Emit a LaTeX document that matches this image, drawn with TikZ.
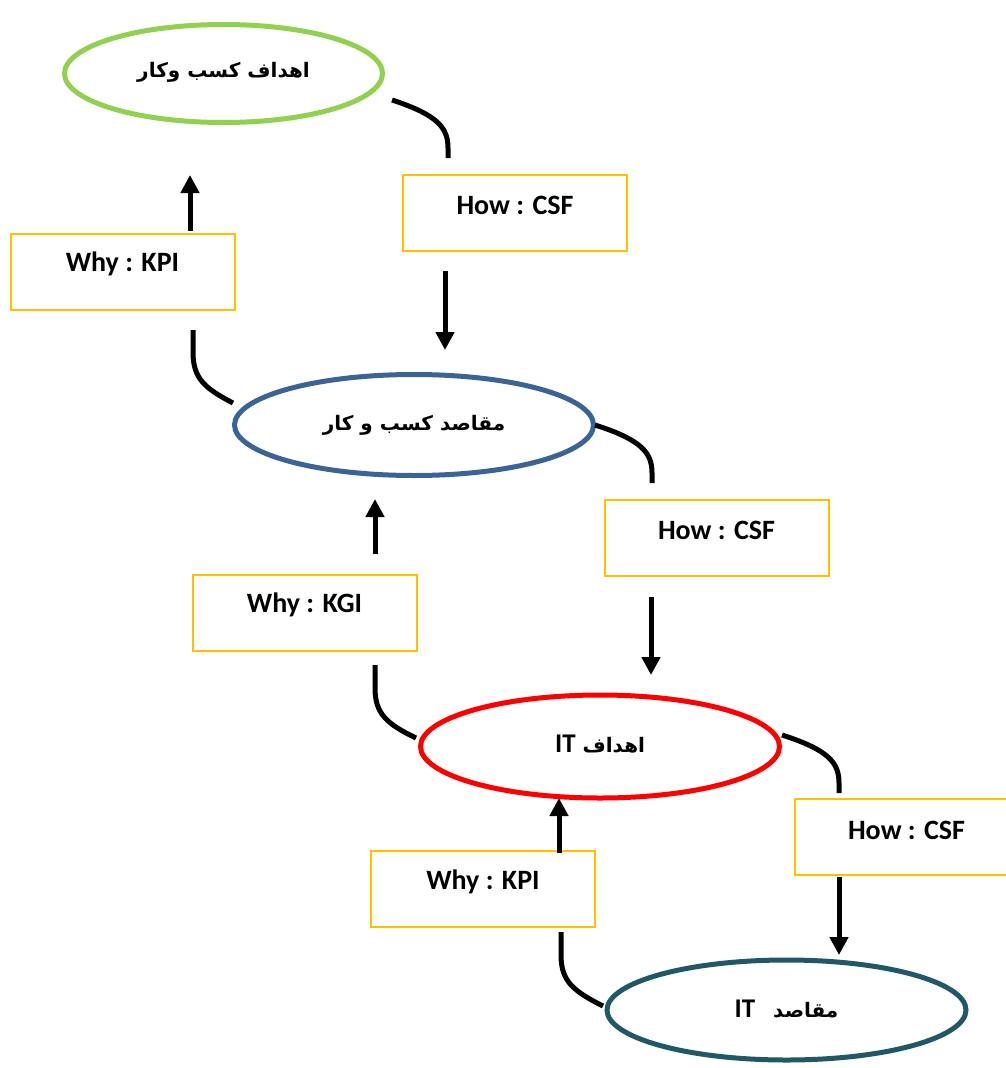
\documentclass[tikz,border=0pt]{standalone}
\usepackage{fontspec}
\setmainfont{Carlito}
\newfontfamily\arabicfont[Script=Arabic]{DejaVu Sans}
\TeXXeTstate=1
\usetikzlibrary{shapes.geometric,arrows.meta}

\definecolor{goalgreen}{HTML}{92D050}
\definecolor{objblue}{HTML}{3A6496}
\definecolor{itred}{HTML}{FF0000}
\definecolor{itteal}{HTML}{215868}
\definecolor{boxorange}{HTML}{FFC000}

\tikzset{
  goal/.style={ellipse, draw=#1, line width=5pt, inner sep=0pt,
    minimum width=359pt, minimum height=101pt, font=\fontsize{20}{24}\selectfont\bfseries},
  factor/.style={rectangle, draw=boxorange, line width=2pt, inner sep=0pt,
    minimum width=224pt, minimum height=76pt},
  factortext/.style={inner sep=0pt, font=\fontsize{28}{32}\selectfont\bfseries},
  link/.style={line width=5pt},
  push/.style={line width=5pt, -{Triangle[length=18pt,width=18pt]}},
}
\newcommand{\fa}[1]{{\arabicfont\beginR #1\endR}}
\newcommand{\latinbig}[1]{{\fontsize{27}{30}\selectfont\bfseries #1}}

\begin{document}
\begin{tikzpicture}[x=1pt,y=-1pt]
\useasboundingbox (0,0) rectangle (1006,1068);
\clip (0,0) rectangle (1006,1068);

% goal ellipses
\node[goal=goalgreen, minimum width=318pt, minimum height=98pt] (bg) at (223.5,73.5) {\raisebox{7pt}{\fa{اهداف کسب وکار}}};
\node[goal=objblue] (bo) at (414,425) {\raisebox{3pt}{\fa{مقاصد کسب و کار}}};
\node[goal=itred, minimum height=103pt] (ig) at (600,746.5) {\raisebox{6pt}{\latinbig{IT}\hspace{0.35em}\fa{اهداف}}};
\node[goal=itteal, minimum height=100pt] (io) at (786.5,1010) {\raisebox{3pt}{\latinbig{IT}\hspace{0.9em}\fa{مقاصد}}};

% factor boxes
\node[factor] (h1) at (515,213) {};
\node[factortext] (h1t) at (515,205) {How : CSF};
\node[factor] (w1) at (122.5,271.5) {};
\node[factortext] (w1t) at (122.5,264) {Why : KPI};
\node[factor] (h2) at (716.5,538) {};
\node[factortext] (h2t) at (716.5,530) {How : CSF};
\node[factor] (w2) at (304.5,612.5) {};
\node[factortext] (w2t) at (304.5,605) {Why : KGI};
\node[factor] (h3) at (906.5,837) {};
\node[factortext] (h3t) at (906.5,830) {How : CSF};
\node[factor] (w3) at (483,889) {};
\node[factortext] (w3t) at (483,882) {Why : KPI};

% curved links leaving the ellipses and boxes
\coordinate (c1a) at (392,100);  \coordinate (c1b) at (448,158);
\coordinate (c2a) at (193,330);  \coordinate (c2b) at (233,403);
\coordinate (c3a) at (595,425);  \coordinate (c3b) at (652,483);
\coordinate (c4a) at (375,665);  \coordinate (c4b) at (416,738);
\coordinate (c5a) at (782,735);  \coordinate (c5b) at (839,793);
\coordinate (c6a) at (561,932);  \coordinate (c6b) at (603,1006);

\draw[link] (c1a) .. controls (438,115) and (448,128) .. (448,148) -- (c1b);
\draw[link] (c2a) -- (193,352) .. controls (193,378) and (204,388) .. (c2b);
\draw[link] (c3a) .. controls (642,440) and (652,453) .. (652,473) -- (c3b);
\draw[link] (c4a) -- (375,688) .. controls (375,714) and (387,724) .. (c4b);
\draw[link] (c5a) .. controls (829,750) and (839,763) .. (839,783) -- (c5b);
\draw[link] (c6a) -- (561,955) .. controls (561,981) and (573,991) .. (c6b);

% straight arrows
\coordinate (a1a) at (190,231); \coordinate (a1b) at (190,175);
\coordinate (a2a) at (445,271); \coordinate (a2b) at (445,350);
\coordinate (a3a) at (375,554); \coordinate (a3b) at (375,499);
\coordinate (a4a) at (651,597); \coordinate (a4b) at (651,675);
\coordinate (a5a) at (559,853); \coordinate (a5b) at (559,798);
\coordinate (a6a) at (839,877); \coordinate (a6b) at (839,955);

\draw[push] (a1a) -- (a1b);
\draw[push] (a2a) -- (a2b);
\draw[push] (a3a) -- (a3b);
\draw[push] (a4a) -- (a4b);
\draw[push] (a5a) -- (a5b);
\draw[push] (a6a) -- (a6b);
\end{tikzpicture}
\end{document}
